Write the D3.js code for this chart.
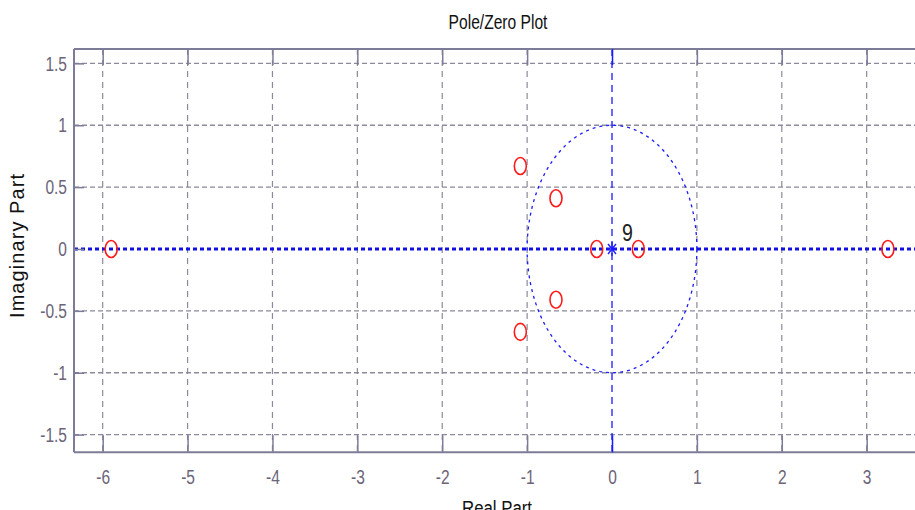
<!DOCTYPE html>
<html>
<head>
<meta charset="utf-8">
<script src="https://cdn.jsdelivr.net/npm/d3@7"></script>
<style>
  body { margin: 0; background: #fff; }
  svg { display: block; }
</style>
</head>
<body>
<svg width="915" height="510"></svg>
<script>
// pole/zero data
var zerosRe = [-5.9, -1.08, -0.66, -0.66, -1.08, -0.18, 0.31, 3.25];
var zerosIm = [0, 0.67, 0.41, -0.41, -0.67, 0, 0, 0];
var polesRe = [0];
var polesIm = [0];
var poleMultiplicity = '9';
var xTicks = [-6, -5, -4, -3, -2, -1, 0, 1, 2, 3];
var yTicks = [-1.5, -1, -0.5, 0, 0.5, 1, 1.5];

var svg = d3.select('svg');
var plotLeft = 74, plotTop = 49, plotBottom = 452.3, plotRight = 921;
var squeeze = 0.74; // narrow font look
var font = '"Liberation Sans", Arial, sans-serif';

var x = d3.scaleLinear().domain([-6.338, 3.64]).range([plotLeft, plotRight]);
var y = d3.scaleLinear().domain([-1.643, 1.616]).range([plotBottom, plotTop]);

var gridColor = '#8a8a9c';
var frameColor = '#7c7c98';
var blue = '#1a1aff';

// grid
svg.append('g').selectAll('line')
    .data(yTicks.filter(function(d) { return d !== 0; }))
  .enter().append('line')
    .attr('x1', plotLeft).attr('x2', plotRight)
    .attr('y1', function(d) { return y(d); })
    .attr('y2', function(d) { return y(d); })
    .attr('stroke', gridColor).attr('stroke-width', 1.3)
    .attr('stroke-dasharray', '5,3');

svg.append('g').selectAll('line')
    .data(xTicks.filter(function(d) { return d !== 0; }))
  .enter().append('line')
    .attr('x1', function(d) { return x(d); })
    .attr('x2', function(d) { return x(d); })
    .attr('y1', plotTop).attr('y2', plotBottom)
    .attr('stroke', gridColor).attr('stroke-width', 1.2)
    .attr('stroke-dasharray', '6,5');

// unit circle
var circ = d3.range(0, 361, 2).map(function(a) {
  var t = a * Math.PI / 180;
  return [Math.cos(t), Math.sin(t)];
});
svg.append('path')
    .attr('d', d3.line().x(function(d) { return x(d[0]); }).y(function(d) { return y(d[1]); })(circ))
    .attr('fill', 'none').attr('stroke', blue).attr('stroke-width', 1.3)
    .attr('stroke-dasharray', '3,4');

// imaginary axis
svg.append('line')
    .attr('x1', x(0)).attr('x2', x(0))
    .attr('y1', plotTop).attr('y2', plotBottom)
    .attr('stroke', blue).attr('stroke-width', 1.3)
    .attr('stroke-dasharray', '7,5');

// real axis
svg.append('line')
    .attr('x1', plotLeft).attr('x2', plotRight)
    .attr('y1', y(0)).attr('y2', y(0))
    .attr('stroke', '#1010e0').attr('stroke-width', 3)
    .attr('stroke-dasharray', '4,3');

// frame
svg.append('line').attr('x1', plotLeft).attr('x2', plotRight).attr('y1', plotTop).attr('y2', plotTop)
    .attr('stroke', frameColor).attr('stroke-width', 2);
svg.append('line').attr('x1', plotLeft).attr('x2', plotRight).attr('y1', plotBottom).attr('y2', plotBottom)
    .attr('stroke', frameColor).attr('stroke-width', 2);
svg.append('line').attr('x1', plotLeft).attr('x2', plotLeft).attr('y1', plotTop).attr('y2', plotBottom)
    .attr('stroke', frameColor).attr('stroke-width', 2);

// axes with inner ticks
var xAxisB = d3.axisBottom(x).tickValues(xTicks).tickSize(-17).tickPadding(22)
    .tickFormat(function(d) { return String(d); });
var gx = svg.append('g').attr('transform', 'translate(0,' + plotBottom + ')').call(xAxisB);
var xAxisT = d3.axisTop(x).tickValues(xTicks).tickSize(-16).tickFormat('');
var gxt = svg.append('g').attr('transform', 'translate(0,' + plotTop + ')').call(xAxisT);
var yAxis = d3.axisLeft(y).tickValues(yTicks).tickSize(-10).tickPadding(7)
    .tickFormat(function(d) { return String(d); });
var gy = svg.append('g').attr('transform', 'translate(' + plotLeft + ',0)').call(yAxis);

[gx, gxt, gy].forEach(function(g) {
  g.attr('font-family', font).attr('font-size', 21);
  g.select('.domain').remove();
  g.selectAll('.tick line').attr('stroke', frameColor).attr('stroke-width', 1.5);
  g.selectAll('.tick text').attr('fill', '#6c6478');
});
gx.selectAll('.tick text').attr('dy', '0.45em')
    .attr('transform', 'scale(' + squeeze + ',1)');
gy.selectAll('.tick text')
    .attr('x', -7 / squeeze)
    .attr('transform', 'scale(' + squeeze + ',1)');
gx.selectAll('.tick').filter(function(d) { return d === 0; }).select('line').attr('stroke', blue);
gxt.selectAll('.tick').filter(function(d) { return d === 0; }).select('line').attr('stroke', blue);

// zeros
svg.append('g').selectAll('ellipse')
    .data(zerosRe.map(function(r, i) { return { re: r, im: zerosIm[i] }; }))
  .enter().append('ellipse')
    .attr('cx', function(d) { return x(d.re); })
    .attr('cy', function(d) { return y(d.im); })
    .attr('rx', 6).attr('ry', 8.5)
    .attr('fill', 'none').attr('stroke', '#ff1a1a').attr('stroke-width', 1.6);

// poles (asterisk)
var poles = polesRe.map(function(r, i) { return { re: r, im: polesIm[i] }; });
var star = svg.append('g').selectAll('g').data(poles).enter().append('g')
    .attr('transform', function(d) { return 'translate(' + x(d.re) + ',' + y(d.im) + ')'; });
[[-5, 0, 5, 0], [0, -7, 0, 7], [-4, -5, 4, 5], [-4, 5, 4, -5]].forEach(function(s) {
  star.append('line').attr('x1', s[0]).attr('y1', s[1]).attr('x2', s[2]).attr('y2', s[3])
      .attr('stroke', blue).attr('stroke-width', 1.3);
});
star.append('text')
    .attr('transform', 'translate(10,-8) scale(0.85,1)')
    .attr('font-family', font)
    .attr('font-size', 23).attr('fill', '#222')
    .text(poleMultiplicity);

// title and labels
svg.append('text')
    .attr('transform', 'translate(498,29) scale(0.78,1)')
    .attr('text-anchor', 'middle')
    .attr('font-family', font).attr('font-size', 20).attr('fill', '#111')
    .text('Pole/Zero Plot');
svg.append('text')
    .attr('transform', 'translate(497,515) scale(0.8,1)')
    .attr('text-anchor', 'middle')
    .attr('font-family', font).attr('font-size', 21).attr('fill', '#111')
    .text('Real Part');
svg.append('text')
    .attr('transform', 'translate(24,246) rotate(-90)')
    .attr('text-anchor', 'middle')
    .attr('font-family', font)
    .attr('font-size', 20).attr('fill', '#111')
    .attr('textLength', 144).attr('lengthAdjust', 'spacing')
    .text('Imaginary Part');
</script>
</body>
</html>
